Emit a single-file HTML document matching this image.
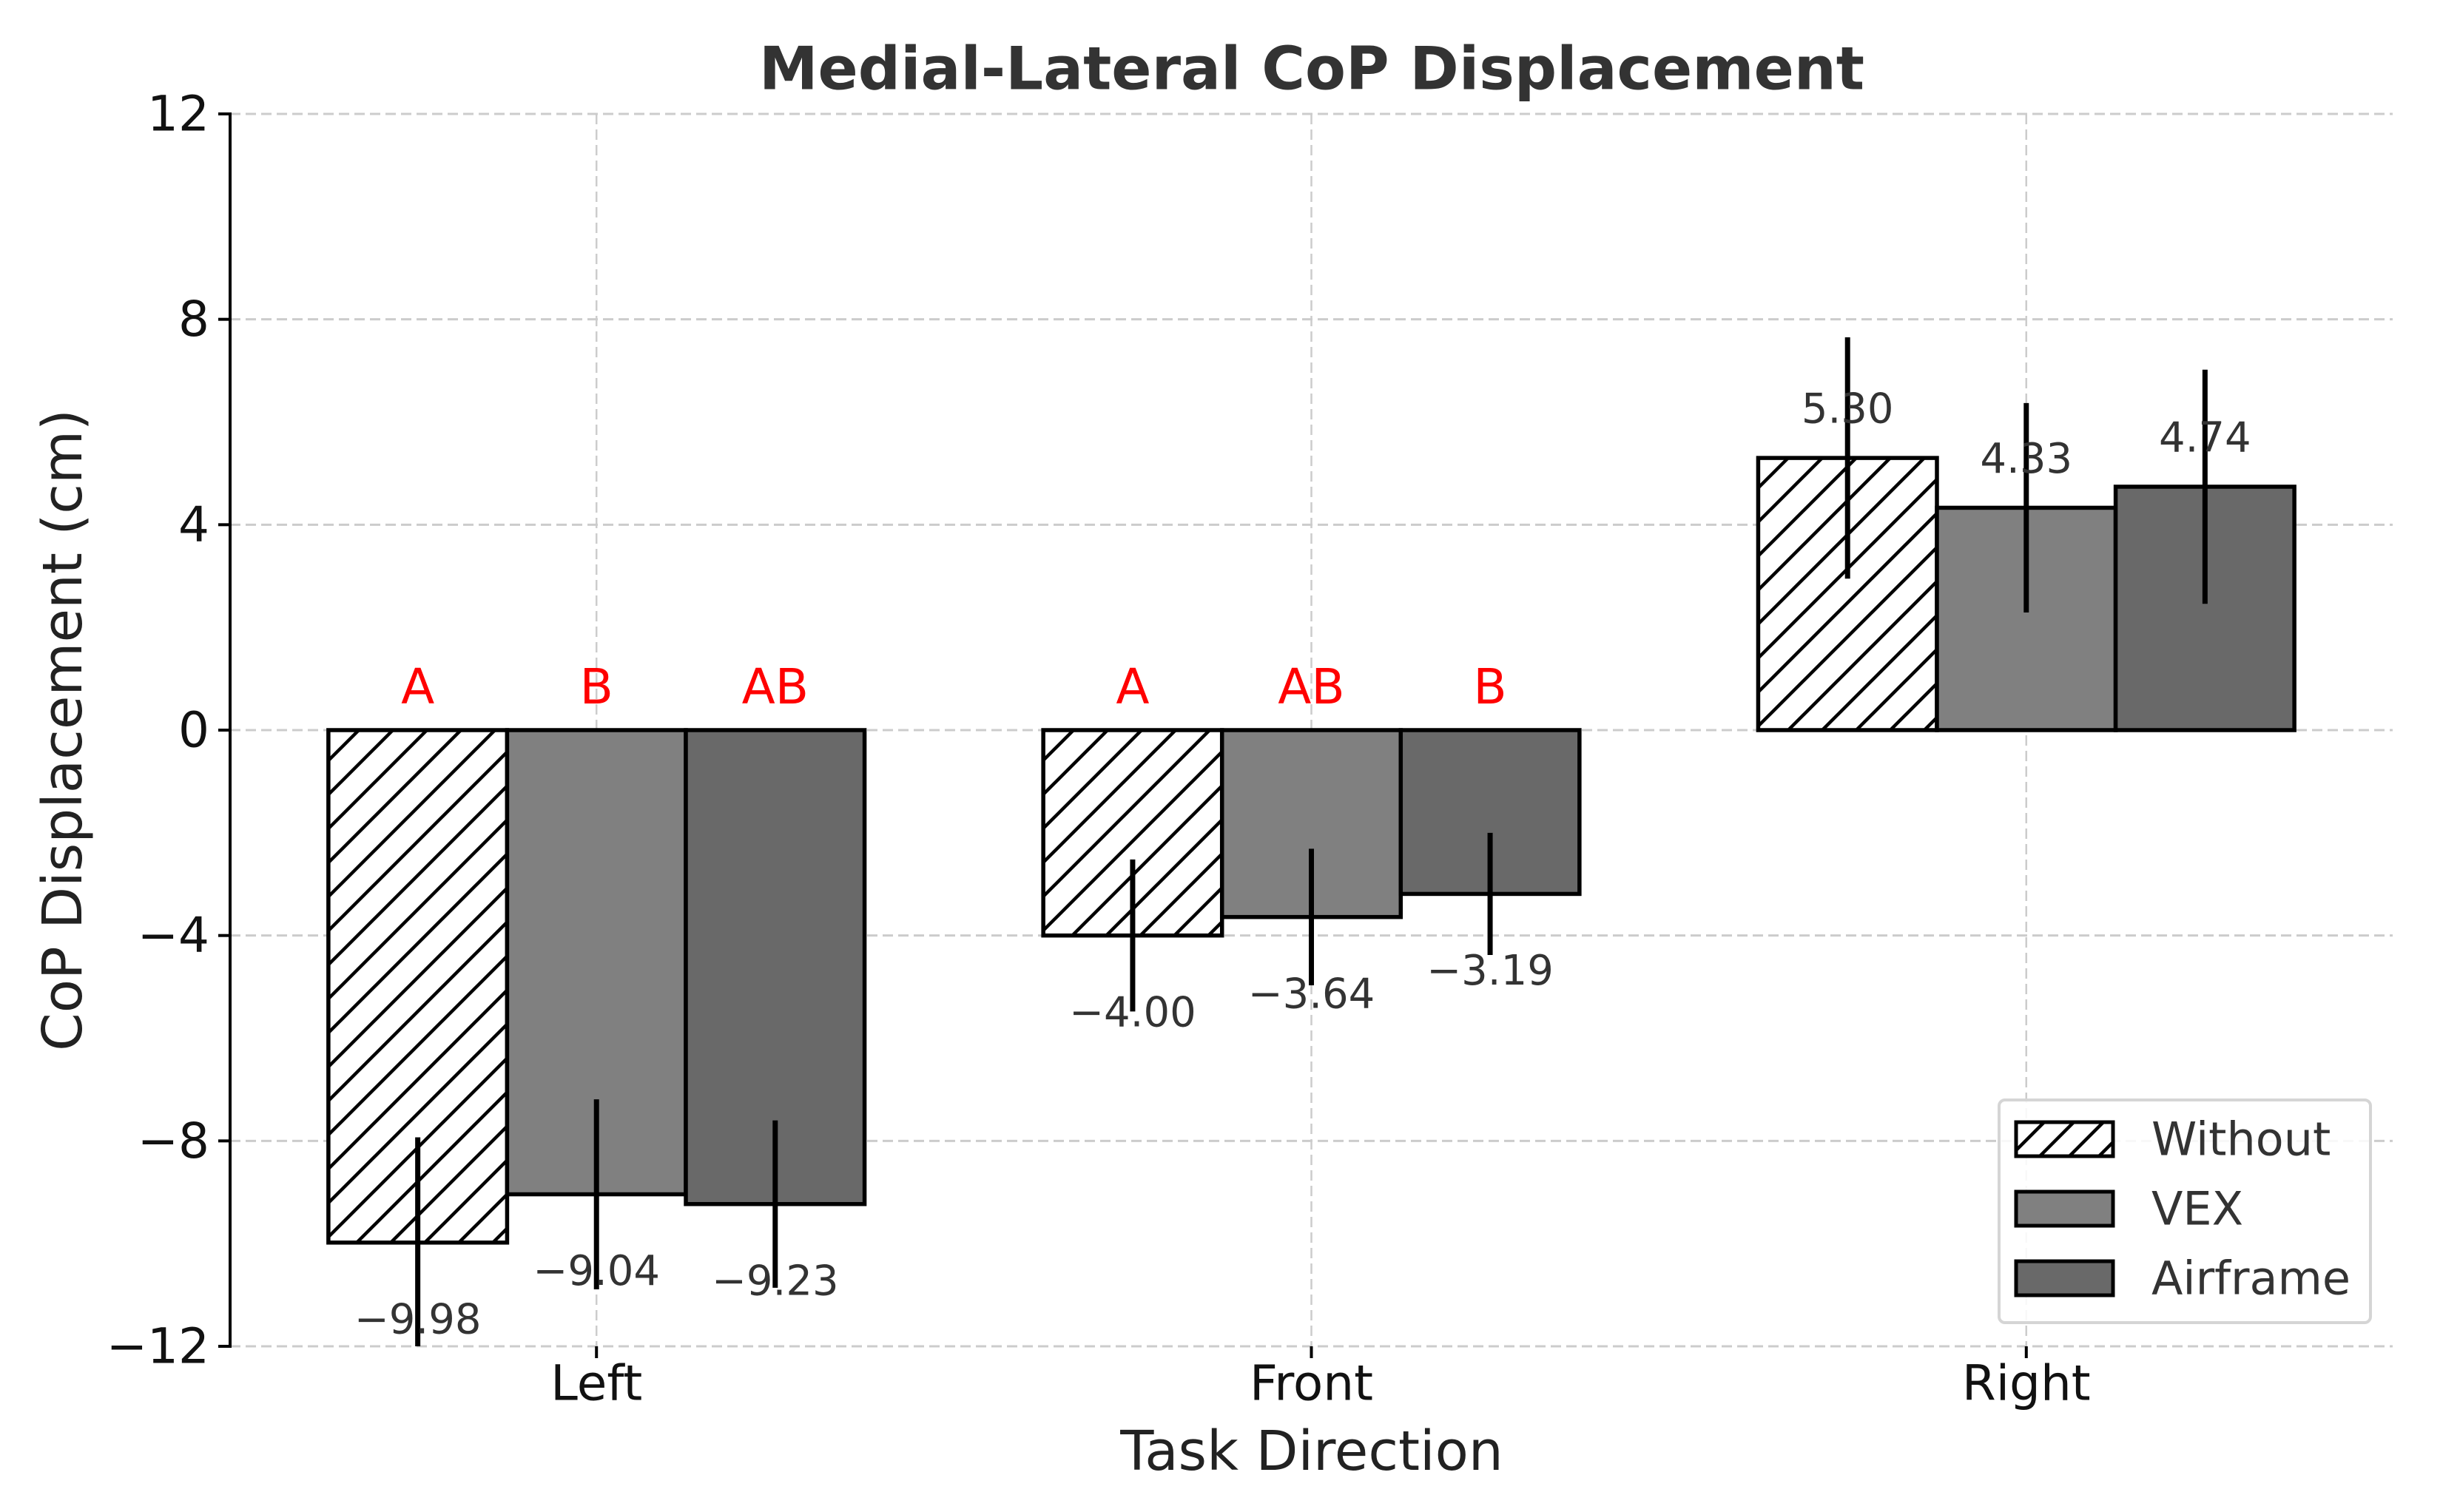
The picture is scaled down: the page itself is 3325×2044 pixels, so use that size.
<!DOCTYPE html>
<html><head><meta charset="utf-8"><style>
html,body{margin:0;padding:0;background:#fff;}
svg{display:block;font-family:"DejaVu Sans","Liberation Sans",sans-serif;}
</style></head><body>
<svg id="chart" width="3325" height="2044" viewBox="0 0 3325 2044" xmlns="http://www.w3.org/2000/svg">
<defs>
<pattern id="hatch" patternUnits="userSpaceOnUse" width="46" height="46">
<path d="M-5,51 L51,-5 M-28,28 L28,-28 M18,74 L74,18" stroke="#000" stroke-width="4.5"/>
</pattern>
<pattern id="hatchL" patternUnits="userSpaceOnUse" width="40" height="40">
<path d="M-5,45 L45,-5 M-25,25 L25,-25 M15,65 L65,15" stroke="#000" stroke-width="4.5"/>
</pattern>
</defs>
<g id="grid"></g>
<g id="bars"></g>
<g id="axes"></g>
<text x="1773" y="93" text-anchor="middle" dominant-baseline="central" font-size="80" font-weight="bold" fill="#333">Medial-Lateral CoP Displacement</text>
<text transform="translate(85,987) rotate(-90)" text-anchor="middle" dominant-baseline="central" font-size="74" fill="#222">CoP Displacement (cm)</text>
<text x="1773" y="1962" text-anchor="middle" dominant-baseline="central" font-size="74" fill="#222">Task Direction</text>
<g id="legend">
<rect x="2702" y="1487" width="502" height="301" rx="8" fill="#fff" fill-opacity="0.85" stroke="#d5d5d5" stroke-width="4"/>
<g>
<rect x="2725" y="1517" width="131" height="46" fill="#fff" stroke="none"/>
<rect x="2725" y="1517" width="131" height="46" fill="url(#hatchL)" stroke="#000" stroke-width="5"/>
<text x="2908" y="1540" dominant-baseline="central" font-size="62" fill="#333">Without</text></g>
<g>
<rect x="2725" y="1611" width="131" height="46" fill="#808080" stroke="#000" stroke-width="5"/>
<text x="2908" y="1634" dominant-baseline="central" font-size="62" fill="#333">VEX</text></g>
<g>
<rect x="2725" y="1705" width="131" height="46" fill="#696969" stroke="#000" stroke-width="5"/>
<text x="2908" y="1728" dominant-baseline="central" font-size="62" fill="#333">Airframe</text></g>
</g>
</svg>
<script>
const categories = ["Left","Front","Right"];
const seriesNames = ["Without","VEX","Airframe"];
const withoutValues = [-9.98, -4.00, 5.30];
const vexValues = [-9.04, -3.64, 4.33];
const airframeValues = [-9.23, -3.19, 4.74];
const withoutErr = [2.05, 1.48, 2.35];
const vexErr = [1.85, 1.33, 2.04];
const airframeErr = [1.63, 1.19, 2.28];
const sigLetters = [["A","B","AB"],["A","AB","B"],["","",""]];
const yTicks = [-12,-8,-4,0,4,8,12];
const yTickLabels = ["\u221212","\u22128","\u22124","0","4","8","12"];

const NS="http://www.w3.org/2000/svg";
const X0=311, X1=3234, Y0=1820, Y1=154;
const xMin=-0.5125, xMax=2.5125, yMin=-12, yMax=12;
function xs(v){return X0+(v-xMin)/(xMax-xMin)*(X1-X0);}
function ys(v){return Y0-(v-yMin)/(yMax-yMin)*(Y0-Y1);}
function mk(tag,attrs,parent){const e=document.createElementNS(NS,tag);for(const k in attrs)e.setAttribute(k,attrs[k]);parent.appendChild(e);return e;}
function fmt(v){return (v<0?"\u2212":"")+Math.abs(v).toFixed(2);}

const grid=document.getElementById('grid');
const bars=document.getElementById('bars');
const axes=document.getElementById('axes');

yTicks.forEach((t,i)=>{
  const g=mk('line',{x1:X0,x2:X1,y1:ys(t),y2:ys(t),stroke:'#cccccc','stroke-width':3,'stroke-dasharray':'14,7'},grid);
  
  
  const tk=mk('line',{x1:X0-16,x2:X0,y1:ys(t),y2:ys(t),stroke:'#000','stroke-width':4},axes);
  
  
  const lb=mk('text',{x:X0-28,y:ys(t),'text-anchor':'end','dominant-baseline':'central','font-size':66,fill:'#111'},axes);
  
  
  lb.textContent=yTickLabels[i];
});
categories.forEach((c,i)=>{
  const g=mk('line',{x1:xs(i),x2:xs(i),y1:Y1,y2:Y0,stroke:'#cccccc','stroke-width':2.5,'stroke-dasharray':'14,7'},grid);
  
  
  const tk=mk('line',{x1:xs(i),x2:xs(i),y1:Y0,y2:Y0+16,stroke:'#000','stroke-width':4},axes);
  
  
  const lb=mk('text',{x:xs(i),y:Y0+50,'text-anchor':'middle','dominant-baseline':'central','font-size':66,fill:'#111'},axes);
  
  
  lb.textContent=c;
});
const ax=mk('line',{x1:X0,x2:X0,y1:Y1-2,y2:Y0+2,stroke:'#000','stroke-width':4},axes);



const allVals=[withoutValues,vexValues,airframeValues];
const allErr=[withoutErr,vexErr,airframeErr];
const fills=['url(#hatch)','#808080','#696969'];
const w=0.25;
categories.forEach((c,i)=>{
  for(let s=0;s<3;s++){
    const v=allVals[s][i], e=allErr[s][i];
    const cx=i+(s-1)*w;
    const xl=xs(cx-w/2), xr=xs(cx+w/2);
    const yt=ys(Math.max(v,0)), yb=ys(Math.min(v,0));
    if(s===0){const bg=mk('rect',{x:xl,y:yt,width:xr-xl,height:yb-yt,fill:'#fff'},bars);
      
      }
    const r=mk('rect',{x:xl,y:yt,width:xr-xl,height:yb-yt,fill:fills[s],stroke:'#000','stroke-width':5.5},bars);
    
    
    const lo=Math.max(v-e,yMin), hi=Math.min(v+e,yMax);
    const eb=mk('line',{x1:xs(cx),x2:xs(cx),y1:ys(hi),y2:ys(lo),stroke:'#000','stroke-width':7},bars);
    
    
    const ly=v<0?ys(v-1.5):ys(v+0.95);
    const vl=mk('text',{x:xs(cx),y:ly,'text-anchor':'middle','dominant-baseline':'central','font-size':56,fill:'#333'},bars);
    
    
    vl.textContent=fmt(v);
    if(sigLetters[i][s]){
      const sl=mk('text',{x:xs(cx),y:ys(0.84),'text-anchor':'middle','dominant-baseline':'central','font-size':66,fill:'#ff0000'},bars);
      
      
      sl.textContent=sigLetters[i][s];
    }
  }
});
</script>
</body></html>
